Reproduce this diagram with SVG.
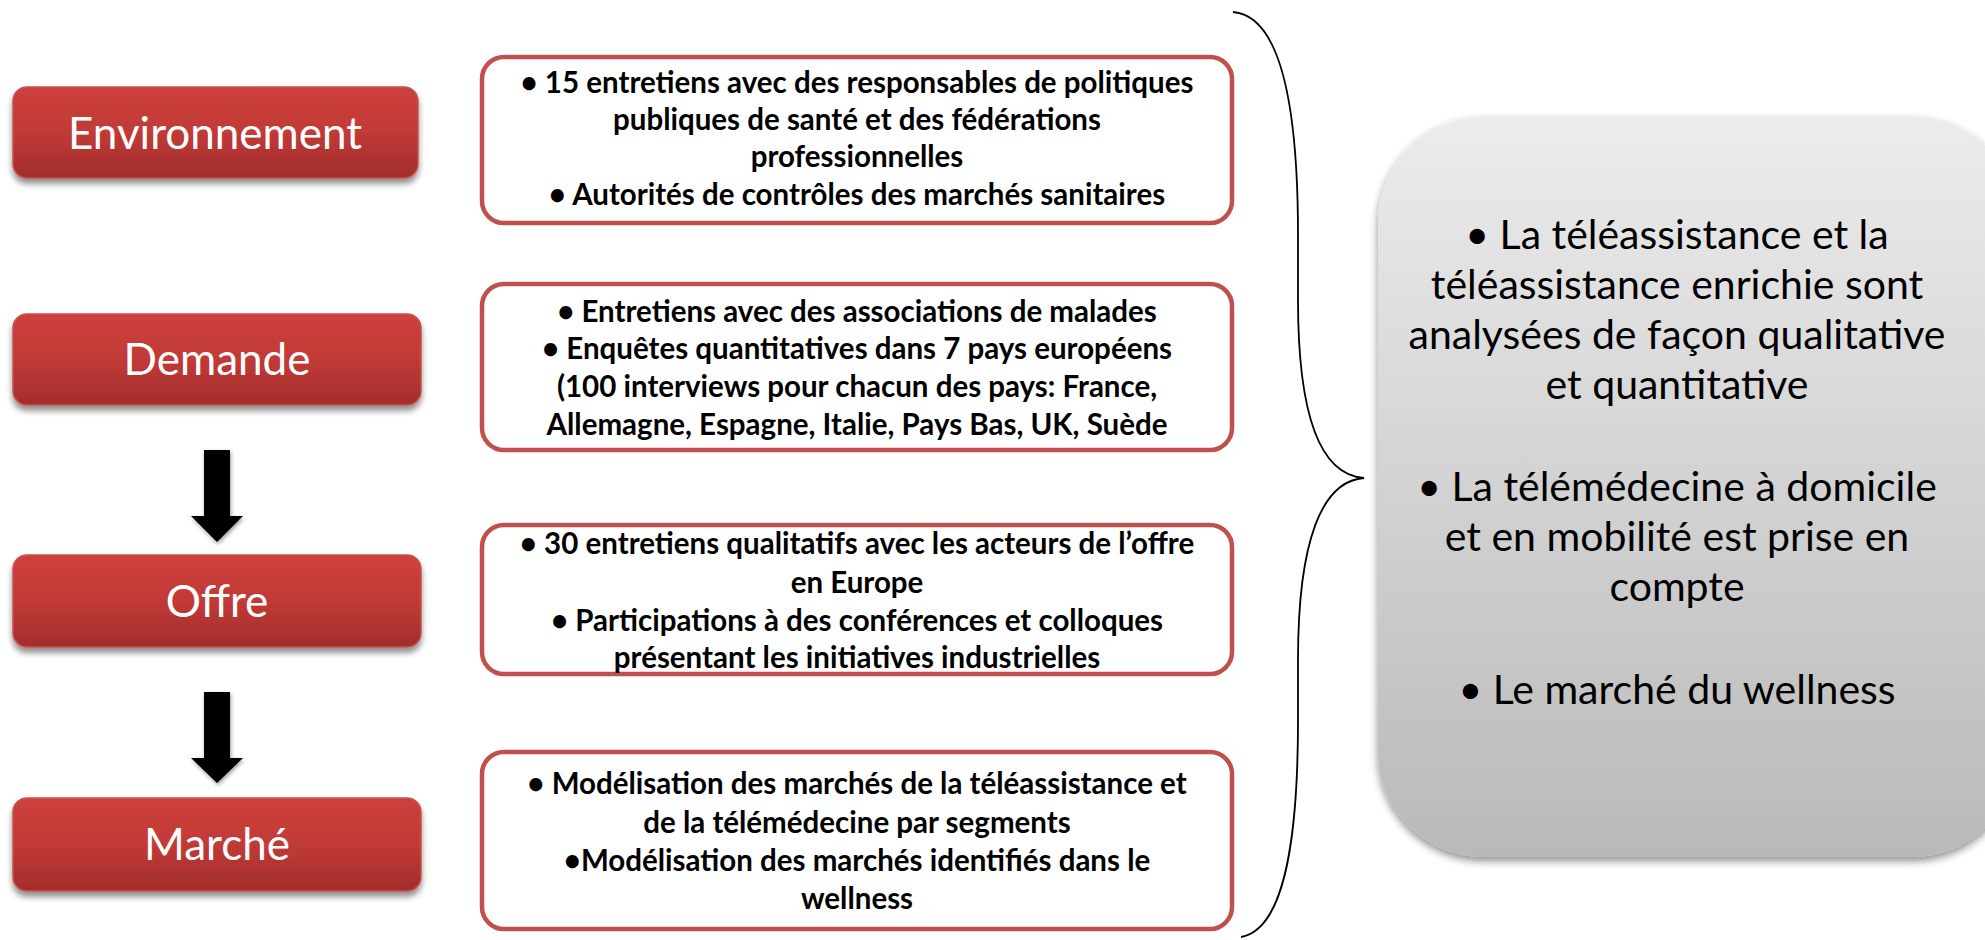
<svg xmlns="http://www.w3.org/2000/svg" width="1985" height="940" viewBox="0 0 1985 940">
<defs>
<linearGradient id="red" x1="0" y1="0" x2="0" y2="1">
<stop offset="0" stop-color="#cd403c"/>
<stop offset="0.5" stop-color="#c13a37"/>
<stop offset="1" stop-color="#a12d2b"/>
</linearGradient>
<linearGradient id="gray" x1="0" y1="0" x2="0" y2="1">
<stop offset="0" stop-color="#ececec"/>
<stop offset="1" stop-color="#b9b9b9"/>
</linearGradient>
<filter id="sh" x="-10%" y="-20%" width="120%" height="150%">
<feGaussianBlur in="SourceAlpha" stdDeviation="3"/>
<feOffset dx="0" dy="5" result="b"/>
<feComponentTransfer><feFuncA type="linear" slope="0.45"/></feComponentTransfer>
<feMerge><feMergeNode/><feMergeNode in="SourceGraphic"/></feMerge>
</filter>
<filter id="sh2" x="-10%" y="-10%" width="120%" height="120%">
<feGaussianBlur in="SourceAlpha" stdDeviation="4"/>
<feOffset dx="0" dy="4" result="b"/>
<feComponentTransfer><feFuncA type="linear" slope="0.45"/></feComponentTransfer>
<feMerge><feMergeNode/><feMergeNode in="SourceGraphic"/></feMerge>
</filter>
<filter id="sh3" x="-20%" y="-20%" width="140%" height="140%">
<feGaussianBlur in="SourceAlpha" stdDeviation="2"/>
<feOffset dx="1" dy="2" result="b"/>
<feComponentTransfer><feFuncA type="linear" slope="0.4"/></feComponentTransfer>
<feMerge><feMergeNode/><feMergeNode in="SourceGraphic"/></feMerge>
</filter>
<style>
.rb{fill:url(#red);stroke:#c8524e;stroke-width:1.5;filter:url(#sh)}
.rt{font-family:Lato,"Open Sans","Liberation Sans",sans-serif;font-size:44px;fill:#ffffff;text-anchor:middle}
.mb{fill:#ffffff;stroke:#c0504d;stroke-width:4.5}
.mt{font-family:Lato,"Liberation Sans",sans-serif;font-size:29.5px;font-weight:bold;fill:#000000;text-anchor:middle}
.gt{font-family:Lato,"Liberation Sans",sans-serif;font-size:41px;fill:#000000;text-anchor:middle}
.ar{fill:#000000;filter:url(#sh3)}
</style>
</defs>
<rect width="1985" height="940" fill="#ffffff"/>

<g id="connectors">
<path id="arrow1" class="ar" d="M204,450 H230 V516 H243 L217,542 L191,516 H204 Z"/>
<path id="arrow2" class="ar" d="M204,692 H230 V758 H243 L217,783 L191,758 H204 Z"/>
<path id="brace" fill="none" stroke="#000000" stroke-width="1.8" d="M1233,12 C1282,16 1298,110 1298,235 L1298,300 C1298,420 1322,475 1364,478 C1322,481 1298,540 1298,660 L1298,720 C1298,850 1282,930 1241,937"/>
</g>

<g id="env">
<rect class="rb" x="13" y="87" width="405" height="91" rx="14"/>
<text class="rt" x="215" y="149">Environnement</text>
</g>
<g id="demande">
<rect class="rb" x="13" y="314" width="408" height="91" rx="14"/>
<text class="rt" x="217" y="375">Demande</text>
</g>
<g id="offre">
<rect class="rb" x="13" y="555" width="408" height="92" rx="14"/>
<text class="rt" x="217" y="617">Offre</text>
</g>
<g id="marche">
<rect class="rb" x="13" y="798" width="408" height="93" rx="14"/>
<text class="rt" x="217" y="860">Marché</text>
</g>

<g id="box1">
<rect class="mb" x="482" y="57" width="750" height="166" rx="22"/>
<text class="mt" x="857" y="93">• 15 entretiens avec des responsables de politiques</text>
<text class="mt" x="857" y="130">publiques de santé et des fédérations</text>
<text class="mt" x="857" y="167">professionnelles</text>
<text class="mt" x="857" y="205">• Autorités de contrôles des marchés sanitaires</text>
</g>
<g id="box2">
<rect class="mb" x="482" y="284" width="750" height="166" rx="22"/>
<text class="mt" x="857" y="322">• Entretiens avec des associations de malades</text>
<text class="mt" x="857" y="359">• Enquêtes quantitatives dans 7 pays européens</text>
<text class="mt" x="857" y="397">(100 interviews pour chacun des pays: France,</text>
<text class="mt" x="857" y="435">Allemagne, Espagne, Italie, Pays Bas, UK, Suède</text>
</g>
<g id="box3">
<rect class="mb" x="482" y="525" width="750" height="149" rx="22"/>
<text class="mt" x="857" y="554">• 30 entretiens qualitatifs avec les acteurs de l’offre</text>
<text class="mt" x="857" y="593">en Europe</text>
<text class="mt" x="857" y="631">• Participations à des conférences et colloques</text>
<text class="mt" x="857" y="668">présentant les initiatives industrielles</text>
</g>
<g id="box4">
<rect class="mb" x="482" y="752" width="750" height="177" rx="22"/>
<text class="mt" x="857" y="794">• Modélisation des marchés de la téléassistance et</text>
<text class="mt" x="857" y="833">de la télémédecine par segments</text>
<text class="mt" x="857" y="871">•Modélisation des marchés identifiés dans le</text>
<text class="mt" x="857" y="909">wellness</text>
</g>

<g id="summary">
<rect x="1378" y="117" width="640" height="740" rx="105" fill="url(#gray)" filter="url(#sh2)"/>
<text class="gt" x="1677" y="249">• La téléassistance et la</text>
<text class="gt" x="1677" y="299">téléassistance enrichie sont</text>
<text class="gt" x="1677" y="349">analysées de façon qualitative</text>
<text class="gt" x="1677" y="399">et quantitative</text>
<text class="gt" x="1677" y="501">• La télémédecine à domicile</text>
<text class="gt" x="1677" y="551">et en mobilité est prise en</text>
<text class="gt" x="1677" y="601">compte</text>
<text class="gt" x="1677" y="704">• Le marché du wellness</text>
</g>
</svg>
